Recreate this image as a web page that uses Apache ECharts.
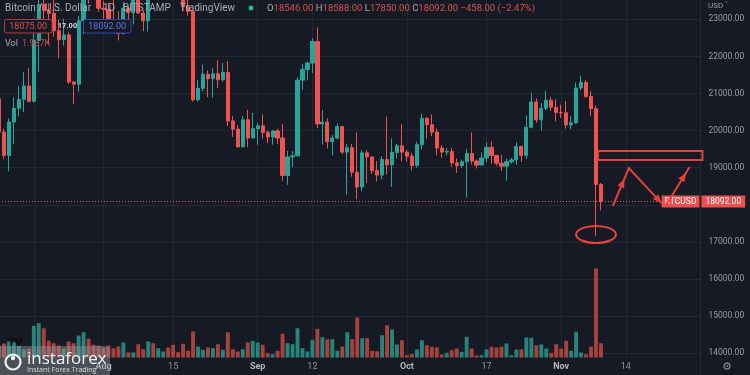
<!DOCTYPE html>
<html><head><meta charset="utf-8">
<script src="https://cdn.jsdelivr.net/npm/echarts@6/dist/echarts.min.js"></script>
<style>html,body{margin:0;padding:0;background:#161a25;}#c{width:750px;height:375px;}</style>
</head><body><div id="c"></div>
<script>
// ---------- DATA ----------
const startDateUTC = Date.UTC(2022, 6, 11);   // first category: 2022-07-11
const dayCount = 142;                          // categories incl. empty future space
// [open, close, low, high]
const ohlc = [
[20860,19960,19900,20880],[19960,19330,19240,20050],[19330,20230,18900,20330],[20230,20600,19630,20900],
[20600,20840,20380,21200],[20840,21200,20500,21580],[21200,20790,20760,21680],[20790,22430,20760,22720],
[22430,23400,21580,23760],[23400,23230,22900,24280],[23230,23160,22340,23430],[23160,22690,22530,23750],
[22690,22450,21950,22990],[22450,22580,22290,23010],[22580,21310,21260,22650],[21310,21250,20720,21330],
[21250,22960,21050,23090],[22960,23840,22600,24190],[23840,23780,23420,24430],[23780,23640,23520,24650],
[23640,23300,23200,24180],[23300,23270,22850,23500],[23270,22980,22670,23450],[22980,22820,22700,23650],
[22820,22620,22430,23220],[22620,23300,22590,23460],[23300,23180,22940,23360],[23180,23810,22860,23830],
[23810,23170,23150,24240],[23170,22960,22680,23240],[22960,23950,22670,24210],[23950,23940,23860,24920],
[23940,24400,23600,24450],[24400,24440,24300,24890],[24440,24300,24120,25050],[24300,24100,23800,25210],
[24100,23860,23700,24240],[23860,23340,23220,24440],[23340,23210,23100,23600],[23210,20830,20780,23220],
[20830,21140,20780,21370],[21140,21520,21050,21780],[21520,21400,20900,21620],[21400,21530,20890,21680],
[21530,21370,21150,21900],[21370,21570,21320,21820],[21570,20260,20120,21870],[20260,20040,19830,20390],
[20040,19560,19550,20150],[19560,20290,19560,20400],[20290,19800,19550,20560],[19800,20050,19800,20480],
[20050,20130,19620,20200],[20130,19950,19780,20440],[19950,19830,19660,20000],[19830,19990,19620,20010],
[19990,19800,19640,20050],[19800,18790,18650,20170],[18790,19290,18540,19450],[19290,19320,19020,19450],
[19320,21360,19300,21440],[21360,21650,21100,21800],[21650,21820,21360,21860],[21820,22400,21550,22490],
[22400,20180,20070,22780],[20180,20230,19620,20550],[20230,19700,19520,20330],[19700,19800,19330,19880],
[19800,20110,19760,20190],[20110,19420,19370,20110],[19420,19540,18270,19640],[19540,18880,18760,19640],
[18880,18480,18150,19950],[18480,19400,18370,19480],[19400,19290,18590,19470],[19290,18920,18830,19310],
[18920,18800,18630,19180],[18800,19220,18680,19310],[19220,19080,18820,20380],[19080,19410,18480,19790],
[19410,19590,19250,19640],[19590,19420,19170,20180],[19420,19310,19160,19480],[19310,19060,18930,19400],
[19060,19620,19000,19700],[19620,20330,19500,20460],[20330,20160,19780,20360],[20160,19960,19850,20440],
[19960,19530,19330,20050],[19530,19420,19270,19610],[19420,19440,19330,19530],[19440,19130,19030,19530],
[19130,19060,18860,19250],[19060,19160,18990,19220],[19160,19380,18190,19510],[19380,19180,19090,19950],
[19180,19070,18980,19220],[19070,19260,19070,19410],[19260,19550,19150,19680],[19550,19330,19100,19710],
[19330,19120,19060,19350],[19120,19040,18910,19340],[19040,19160,18650,19250],[19160,19210,19110,19260],
[19210,19570,19080,19690],[19570,19330,19160,19600],[19330,20090,19240,20410],[20090,20770,20060,21020],
[20770,20290,20210,20870],[20290,20600,20000,20740],[20600,20820,20550,21080],[20820,20630,20530,20910],
[20630,20490,20250,20840],[20490,20480,20340,20700],[20480,20150,20050,20800],[20150,20210,20040,20390],
[20210,21150,20180,21300],[21150,21300,21090,21480],[21300,20920,20880,21360],[20920,20590,20400,21070],
[20590,18550,17166,20670],[18546,18092,17850,18588]
];
const volumes = [
1680,1960,2240,2100,1680,1120,1260,4440,4800,4100,2340,2000,1680,1260,2240,2000,
3080,3540,2620,1780,1680,1400,1680,1300,1540,2100,700,700,1860,1160,2240,2000,
1300,840,1400,1780,740,1920,940,3640,1540,1080,1400,1300,1860,1080,3540,1160,
840,1160,2100,2340,2100,1780,600,460,940,3320,2000,1860,4100,1300,840,2480,
4020,2840,2560,2560,940,1540,3540,2560,5600,2700,2700,940,880,3120,4520,3920,
1820,2420,320,460,1120,2420,1720,1500,1400,420,660,1020,1260,800,2900,1260,
280,320,1120,1500,1400,1500,1960,320,1120,1120,2800,2760,1720,1820,1260,660,
1860,1260,2340,940,3600,700,460,1500,12460,1987
];
const priceMin = 13000, priceMax = 24000, priceStep = 1000;
const xLabelDays  = ['2022-08-01','2022-08-15','2022-09-01','2022-09-12','2022-10-01','2022-10-17','2022-11-01','2022-11-14'];
const xLabelTexts = ['Aug','15','Sep','12','Oct','17','Nov','14'];
const monthNames  = ['Aug','Sep','Oct','Nov'];
const xGridDays   = ['2022-07-18'].concat(xLabelDays);
const bidText = '18075.00', spreadText = '17.00', askText = '18092.00';
// annotations (data space: [day index, price])
const annoBox = {from: 120.4, to: 141.4, top: 19450, bottom: 19210};
const annoEllipse = {at: 120, price: 17200, rDays: 4, rPrice: 230};
const annoPath = [[123.4, 17968], [126.6, 18992], [133.2, 18040]];
const annoArrow = [[134.1, 17990], [138.8, 19020]];

// ---------- BUILD ----------
const dates = [];
for (let k = 0; k < dayCount; k++) dates.push(new Date(startDateUTC + k * 86400000).toISOString().slice(0, 10));
const labelMap = {}; xLabelDays.forEach((d, j) => labelMap[d] = xLabelTexts[j]);
const gridSet = new Set(xGridDays);

const UP = '#26a69a', DOWN = '#ef5350', VUP = '#26857a', VDOWN = '#a8423f';
const BG = '#161a25', GRIDC = '#232734', TXT = '#9a9da6';
const FONT = 'Roboto, "Noto Sans", sans-serif';

const last = ohlc[ohlc.length - 1];
const prevClose = ohlc[ohlc.length - 2][1];
const lastClose = last[1];
const chg = lastClose - prevClose;
const chgPct = chg / prevClose * 100;
const minus = v => (v < 0 ? '\u2212' : '') + Math.abs(v).toFixed(2);

const volData = volumes.map((v, i) => ({value: v, itemStyle: {color: ohlc[i][1] >= ohlc[i][0] ? VUP : VDOWN}}));

const chart = echarts.init(document.getElementById('c'), null, {renderer: 'canvas', width: 750, height: 375});

const band = 4.975;
const gridLeft = -1, gridWidth = band * (dayCount - 1);
const pxPer = 37.1 / priceStep;
const y23000 = 19.3;
const priceTop = y23000 - (priceMax - 23000) * pxPer;
const priceHeight = (priceMax - priceMin) * pxPer;

const option = {
  backgroundColor: BG,
  animation: false,
  grid: [
    {left: gridLeft, top: priceTop, width: gridWidth, height: priceHeight, outerBoundsMode: 'none', containLabel: false},
    {left: gridLeft, top: 0, width: gridWidth, height: 357.5, outerBoundsMode: 'none', containLabel: false}
  ],
  xAxis: [
    {type: 'category', gridIndex: 0, data: dates, boundaryGap: false,
     axisLine: {show: false}, axisTick: {show: false}, axisLabel: {show: false}, splitLine: {show: false}},
    {type: 'category', gridIndex: 1, data: dates, boundaryGap: false,
     axisLine: {show: false}, axisTick: {show: false},
     axisLabel: {
       interval: (idx, val) => val in labelMap,
       formatter: val => { const t = labelMap[val] || ''; return monthNames.includes(t) ? '{m|' + t + '}' : t; },
       color: '#8f929b', fontSize: 9, fontFamily: FONT, margin: 5,
       rich: {m: {fontWeight: 'bold', color: '#b4b7bf', fontSize: 9, fontFamily: FONT}}
     },
     splitLine: {show: true, interval: (idx, val) => gridSet.has(val), lineStyle: {color: GRIDC, width: 1}}}
  ],
  yAxis: [
    {type: 'value', gridIndex: 0, position: 'right', min: priceMin, max: priceMax, interval: priceStep,
     axisLine: {show: true, lineStyle: {color: '#262a36'}}, axisTick: {show: false},
     axisLabel: {formatter: v => v.toFixed(2), color: TXT, fontSize: 8.5, fontFamily: FONT, margin: 8, align: 'left'},
     splitLine: {show: true, lineStyle: {color: GRIDC, width: 1}}},
    {type: 'value', gridIndex: 1, min: 0, max: 357.5 * 140, show: false, splitLine: {show: false}}
  ],
  series: [
    {type: 'bar', xAxisIndex: 1, yAxisIndex: 1, data: volData, barWidth: '78%', silent: true},
    {type: 'candlestick', xAxisIndex: 0, yAxisIndex: 0, data: ohlc, barWidth: 3.7, clip: true,
     itemStyle: {color: UP, color0: DOWN, borderColor: UP, borderColor0: DOWN, borderWidth: 1},
     markLine: {
       silent: true, symbol: ['none', 'none'], animation: false,
       lineStyle: {color: DOWN, type: [1, 2], width: 1},
       data: [
         {yAxis: lastClose, label: {show: true, position: 'end', distance: 1, formatter: lastClose.toFixed(2),
           backgroundColor: '#ec4f4c', color: '#ffffff', padding: [2, 4, 1, 4], fontSize: 8.5, fontFamily: FONT}},
         {yAxis: lastClose, label: {show: true, position: 'insideEnd', distance: 1, formatter: 'BTCUSD',
           backgroundColor: '#ec4f4c', color: '#ffffff', padding: [2, 3, 1, 3], fontSize: 8.5, fontFamily: FONT}}
       ]
     }}
  ]
};
chart.setOption(option);

// ---------- OVERLAYS ----------
const xAt = (() => {
  const a = chart.convertToPixel({xAxisIndex: 0}, 0);
  const b = chart.convertToPixel({xAxisIndex: 0}, 100);
  return i => a + (b - a) * i / 100;
})();
const yAt = p => chart.convertToPixel({yAxisIndex: 0}, p);

const RED = '#e8403c';
const g = [];
const Z = 100;
function txt(x, y, text, color, size, extra) {
  g.push(Object.assign({type: 'text', x, y, z: Z, style: Object.assign({text, fill: color, fontSize: size, fontFamily: FONT, verticalAlign: 'middle'}, extra || {})}));
}
// header line 1
txt(5, 8.5, 'Bitcoin / U.S. Dollar', '#a9acb5', 10);
txt(103, 8.5, '1D', '#a9acb5', 10);
txt(123, 8.5, 'BITSTAMP', '#a9acb5', 10);
txt(180, 8.5, 'TradingView', '#a9acb5', 10);
g.push({type: 'circle', z: Z, shape: {cx: 251, cy: 8, r: 2.5}, style: {fill: '#2bb58c'}});
g.push({type: 'text', x: 267, y: 8.5, z: Z, style: {
  text: '{l|O}{v|' + last[0].toFixed(2) + '} {l|H}{v|' + last[3].toFixed(2) + '} {l|L}{v|' + last[2].toFixed(2) + '} {l|C}{v|' + last[1].toFixed(2) + '} {v|' + minus(chg) + ' (' + minus(chgPct) + '%)}',
  fontSize: 9.5, fontFamily: FONT, verticalAlign: 'middle',
  rich: {l: {fill: '#a9acb5', fontSize: 9.5, fontFamily: FONT}, v: {fill: '#d8514e', fontSize: 9.5, fontFamily: FONT}}
}});
// header line 2
g.push({type: 'rect', z: Z, shape: {x: 4.5, y: 19.5, width: 47.5, height: 13.5, r: 2}, style: {fill: BG, stroke: '#b63d3b', lineWidth: 1}});
txt(28.2, 26.5, bidText, '#dc4f4c', 9, {align: 'center'});
txt(67.5, 26.5, spreadText, '#d1d4dc', 7.5, {align: 'center', fontWeight: 'bold'});
g.push({type: 'rect', z: Z, shape: {x: 83.5, y: 19.5, width: 47.5, height: 13.5, r: 2}, style: {fill: BG, stroke: '#2d4aa8', lineWidth: 1}});
txt(107.2, 26.5, askText, '#5476f0', 9, {align: 'center'});
// header line 3
txt(5, 43.5, 'Vol', '#a9acb5', 9);
txt(22, 43.5, (volumes[volumes.length - 1] / 1000).toFixed(3) + 'K', '#c84a47', 9);
// price axis header & gear
txt(708, 6, 'USD \u02c5', '#9a9da6', 8);
txt(727, 367.5, '\u2699', '#8f929b', 11, {align: 'center', fontFamily: '"DejaVu Sans"'});

// annotations
const bx0 = xAt(annoBox.from), bx1 = xAt(annoBox.to), by0 = yAt(annoBox.top), by1 = yAt(annoBox.bottom);
g.push({type: 'rect', z: Z, shape: {x: bx0, y: by0, width: bx1 - bx0, height: by1 - by0}, style: {fill: 'none', stroke: RED, lineWidth: 2}});
const ecx = xAt(annoEllipse.at), ecy = yAt(annoEllipse.price);
g.push({type: 'ellipse', z: Z, shape: {cx: ecx, cy: ecy, rx: xAt(annoEllipse.at + annoEllipse.rDays) - ecx, ry: yAt(annoEllipse.price - annoEllipse.rPrice) - ecy}, style: {fill: 'none', stroke: RED, lineWidth: 2}});
function head(p, q, frac) {
  const tx = p[0] + (q[0] - p[0]) * frac, ty = p[1] + (q[1] - p[1]) * frac;
  const dx = q[0] - p[0], dy = q[1] - p[1], L = Math.hypot(dx, dy);
  const ux = dx / L, uy = dy / L, nx = -uy, ny = ux, len = 9, w = 3.6;
  const bxp = tx - ux * len, byp = ty - uy * len;
  g.push({type: 'polygon', z: Z, shape: {points: [[tx, ty], [bxp + nx * w, byp + ny * w], [bxp - nx * w, byp - ny * w]]}, style: {fill: RED}});
}
const pathPx = annoPath.map(p => [xAt(p[0]), yAt(p[1])]);
g.push({type: 'polyline', z: Z, shape: {points: pathPx}, style: {stroke: RED, lineWidth: 2, fill: 'none'}});
head(pathPx[0], pathPx[1], 0.72);
head(pathPx[1], pathPx[2], 1.0);
const arrPx = annoArrow.map(p => [xAt(p[0]), yAt(p[1])]);
g.push({type: 'polyline', z: Z, shape: {points: arrPx}, style: {stroke: RED, lineWidth: 2, fill: 'none'}});
head(arrPx[0], arrPx[1], 0.85);

// watermark (bottom-left)
g.push({type: 'rect', z: Z, shape: {x: -4, y: 346, width: 114, height: 33, r: 5}, style: {fill: 'rgba(150,152,158,0.42)'}});
txt(8, 343, 'TV', '#0d0d10', 10, {fontWeight: 'bold', fontFamily: '"DejaVu Sans"'});
g.push({type: 'circle', z: Z, shape: {cx: 13, cy: 362, r: 7.5}, style: {fill: 'none', stroke: '#f0f0f0', lineWidth: 2.2}});
g.push({type: 'circle', z: Z, shape: {cx: 13, cy: 358, r: 2.2}, style: {fill: '#f0f0f0'}});
txt(27, 359, 'instaforex', '#f2f2f2', 17, {fontFamily: '"Open Sans"'});
txt(27, 370, 'Instant Forex Trading', '#dcdcdc', 7, {fontFamily: '"Open Sans"'});

chart.setOption({graphic: {elements: g}});
</script></body></html>
